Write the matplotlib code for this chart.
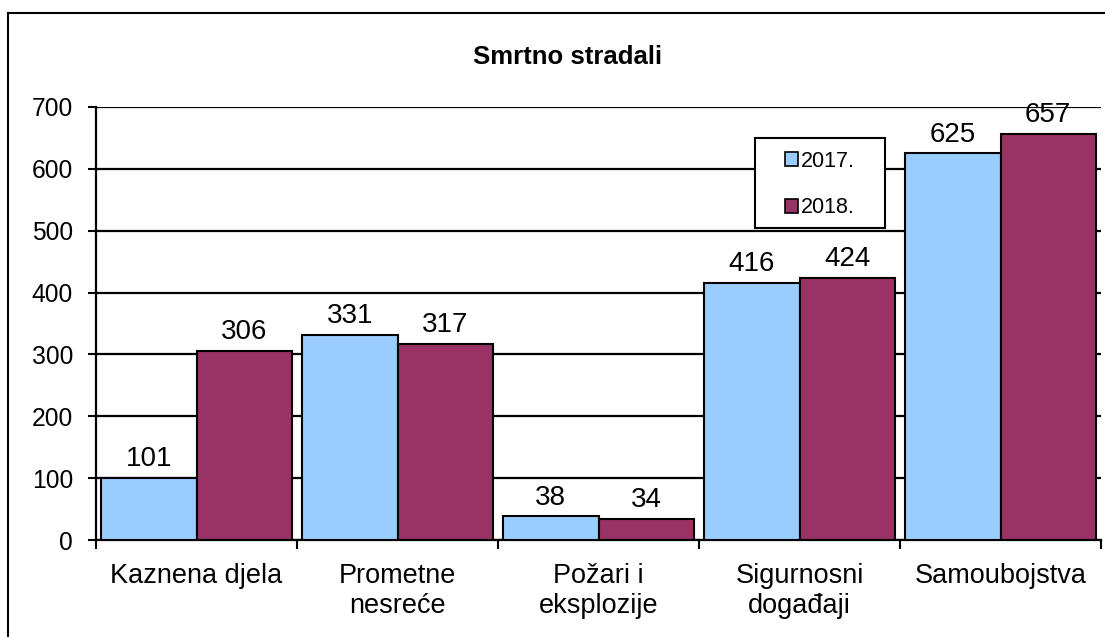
import numpy as np
import matplotlib.pyplot as plt
from matplotlib.patches import Rectangle
from matplotlib.lines import Line2D

plt.rcParams['font.family'] = ['Liberation Sans', 'DejaVu Sans']

categories = ['Kaznena djela', 'Prometne\nnesreće', 'Požari i\neksplozije',
              'Sigurnosni\ndogađaji', 'Samoubojstva']
y2017 = [101, 331, 38, 416, 625]
y2018 = [306, 317, 34, 424, 657]
series_labels = ['2017.', '2018.']
title = 'Smrtno stradali'

c2017 = '#99ccff'
c2018 = '#993366'

fig = plt.figure(figsize=(11.05, 6.37), dpi=100)
ax = fig.add_axes([96/1105, 1-540/637, 1005/1105, 433/637])

x = np.arange(len(categories))
w = 0.475
b1 = ax.bar(x - w, y2017, width=w, align='edge', color=c2017, edgecolor='black',
            linewidth=1.5, zorder=3, label=series_labels[0])
b2 = ax.bar(x, y2018, width=w, align='edge', color=c2018, edgecolor='black',
            linewidth=1.5, zorder=3, label=series_labels[1])

# value labels above bars
for bars, vals in ((b1, y2017), (b2, y2018)):
    for r, v in zip(bars, vals):
        ax.annotate(str(v), (r.get_x() + r.get_width()/2, v), xytext=(0, 8.5),
                    textcoords='offset points', ha='center', va='baseline',
                    fontsize=20, zorder=5, annotation_clip=False)

ax.set_xlim(-0.5, len(categories) - 0.5)
ax.set_ylim(0, 700)
ax.set_yticks(np.arange(0, 701, 100))
ax.yaxis.grid(True, color='black', linewidth=1.6, zorder=0)
ax.set_axisbelow(True)

ax.set_xticks(x)
ax.set_xticklabels(categories, fontsize=19.5, linespacing=1.2)
ax.set_xticks(np.arange(-0.5, len(categories)), minor=True)
ax.tick_params(axis='x', which='major', length=0, pad=16.5)
ax.tick_params(axis='x', which='minor', length=6.5, width=1.5, direction='out')
ax.tick_params(axis='y', length=5.8, width=1.5, pad=10.8, labelsize=17.7)

for s in ('top', 'right'):
    ax.spines[s].set_visible(False)
for s in ('left', 'bottom'):
    ax.spines[s].set_linewidth(1.6)

# legend box
ax.add_patch(Rectangle((0.656, 0.7206), 0.129, 0.2075, transform=ax.transAxes,
                       facecolor='white', edgecolor='black', linewidth=1.5, zorder=6))
leg = ax.legend(loc='center', bbox_to_anchor=(0.7204, 0.821), frameon=False,
                fontsize=15.5, handlelength=0.58, handleheight=0.58,
                handletextpad=0.15, labelspacing=1.2)
leg.set_zorder(7)
for h in leg.legend_handles:
    h.set_linewidth(1.2)

fig.text(568/1105, 1-64/637, title, ha='center', va='baseline',
         fontsize=18.5, fontweight='bold')

# outer chart border (left and top visible)
fig.add_artist(Line2D([8/1105, 8/1105], [0, 1-13/637], transform=fig.transFigure,
                      color='black', linewidth=1.5))
fig.add_artist(Line2D([8/1105, 1], [1-13/637, 1-13/637], transform=fig.transFigure,
                      color='black', linewidth=1.5))

plt.savefig('out.png', dpi=100)
